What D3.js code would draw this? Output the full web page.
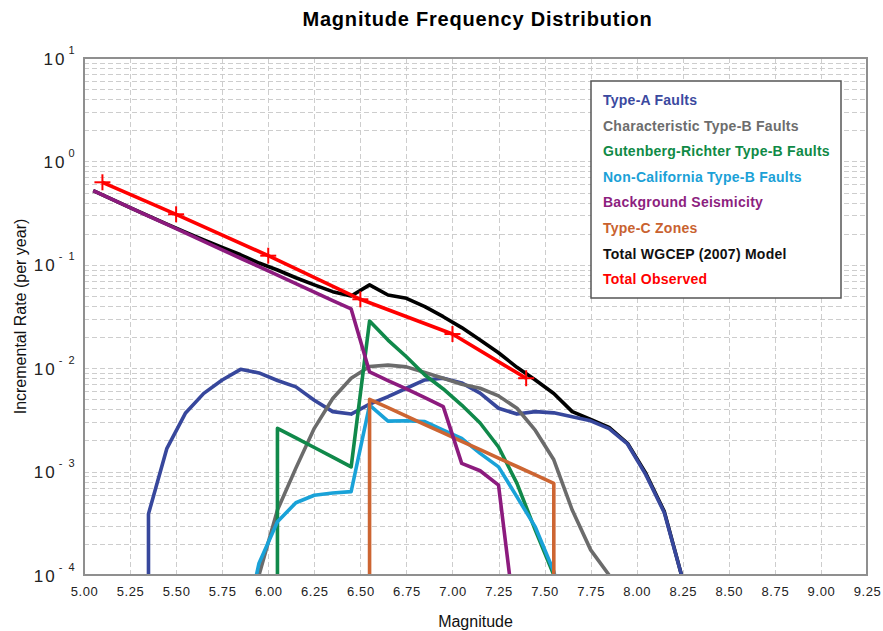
<!DOCTYPE html>
<html>
<head>
<meta charset="utf-8">
<script src="https://cdn.jsdelivr.net/npm/d3@7"></script>
<style>
  html, body { margin: 0; padding: 0; background: #fff; }
  svg { display: block; font-family: "Liberation Sans", Arial, Helvetica, sans-serif; }
</style>
</head>
<body>
<svg id="chart" width="883" height="631"></svg>
<script>
// Magnitude bin centres (0.1 wide bins)
const binMags = [5.05, 5.15, 5.25, 5.35, 5.45, 5.55, 5.65, 5.75, 5.85, 5.95,
                 6.05, 6.15, 6.25, 6.35, 6.45, 6.55, 6.65, 6.75, 6.85, 6.95,
                 7.05, 7.15, 7.25, 7.35, 7.45, 7.55, 7.65, 7.75, 7.85, 7.95,
                 8.05, 8.15, 8.25];

// Incremental rates (per year); null = no contribution, 0 = zero rate
const typeAFaults = [null, null, 0, 0.00039, 0.00168, 0.00366, 0.00571, 0.0077, 0.00975, 0.0090,
                     0.0076, 0.0066, 0.0049, 0.0038, 0.0036, 0.0045, 0.0053, 0.0064, 0.0077, 0.0080,
                     0.0072, 0.00575, 0.0041, 0.0036, 0.0038, 0.0037, 0.0034, 0.0031, 0.0026, 0.00185,
                     0.00093, 0.0004, 0.00009];
const charTypeB = [null, null, null, null, null, null, null, null, 0.00002, 0.0001,
                   0.000425, 0.00108, 0.00262, 0.0051, 0.0080, 0.0104, 0.0107, 0.0103, 0.0091, 0.0080,
                   0.0070, 0.0064, 0.0054, 0.0041, 0.0025, 0.0013, 0.000425, 0.000175, 0.0001, 0.00003,
                   null, null, null];
const grTypeB = [null, null, null, null, null, null, null, null, null, 0,
                 0.00262, 0.00212, 0.00171, 0.00138, 0.00111, 0.0286, 0.0187, 0.0129, 0.0086, 0.0063,
                 0.0044, 0.00295, 0.00173, 0.00077, 0.00027, 0.0001, 0, null, null, null,
                 null, null, null];
const nonCaTypeB = [null, null, null, null, null, null, null, null, 0.00002, 0.00013,
                    0.000327, 0.0005, 0.00059, 0.00062, 0.00064, 0.0044, 0.00308, 0.0031, 0.00304, 0.00252,
                    0.0021, 0.0015, 0.00111, 0.00057, 0.00029, 0.000108, 0.00002, null, null, null,
                    null, null, null];
const background = [0.521, 0.432, 0.358, 0.296, 0.2455, 0.2034, 0.1685, 0.1396, 0.1157, 0.0958,
                    0.0794, 0.0658, 0.0545, 0.0451, 0.0374, 0.0092, 0.0076, 0.0063, 0.0052, 0.00425,
                    0.0012, 0.00102, 0.00074, 0.000026, null, null, null, null, null, null,
                    null, null, null];
const typeCZones = [null, null, null, null, null, null, null, null, null, null,
                    null, null, null, null, 0, 0.0050, 0.00415, 0.00344, 0.00285, 0.00237,
                    0.00196, 0.00163, 0.00135, 0.00112, 0.00093, 0.00077, 0, null, null, null,
                    null, null, null];
const totalModel = [0.521, 0.432, 0.358, 0.297, 0.247, 0.207, 0.174, 0.147, 0.125, 0.104,
                    0.089, 0.075, 0.064, 0.055, 0.050, 0.064, 0.051, 0.0474, 0.0394, 0.0315,
                    0.0247, 0.0187, 0.0141, 0.0102, 0.0077, 0.0057, 0.0038, 0.0032, 0.00268, 0.00188,
                    0.00096, 0.00041, 0.00009];

// Observed rates
const obsMags  = [5.1, 5.5, 6.0, 6.5, 7.0, 7.4];
const obsRates = [0.628, 0.308, 0.1225, 0.0464, 0.0214, 0.0080];

// Axis ticks
const xTicks = [5.00, 5.25, 5.50, 5.75, 6.00, 6.25, 6.50, 6.75, 7.00, 7.25, 7.50, 7.75,
                8.00, 8.25, 8.50, 8.75, 9.00, 9.25];
const yDecades = [1e-4, 1e-3, 1e-2, 1e-1, 1e0, 1e1];
const yExponents = ["-4", "-3", "-2", "-1", "0", "1"];

const seriesNames = ["Type-A Faults", "Characteristic Type-B Faults", "Gutenberg-Richter Type-B Faults",
                     "Non-California Type-B Faults", "Background Seismicity", "Type-C Zones",
                     "Total WGCEP (2007) Model", "Total Observed"];
const seriesColors = ["#37479c", "#6b6b6b", "#10894a", "#19a2d8", "#8c1b7e", "#cd6532", "#000000", "#ff0000"];
const legendColors = ["#3b49a0", "#6d6d6d", "#0f8a46", "#1ba1d7", "#8d1f7f", "#c9622f", "#111111", "#ff0000"];

const svg = d3.select("#chart");
const W = 883, H = 631;
const plot = { left: 84, right: 867, top: 58, bottom: 575 };

const x = d3.scaleLinear().domain([5, 9.25]).range([plot.left, plot.right]);
const y = d3.scaleLog().domain([1e-4, 10]).range([plot.bottom, plot.top]);

svg.append("rect").attr("width", W).attr("height", H).attr("fill", "#fff");

// Title
svg.append("text")
  .attr("x", (plot.left + plot.right) / 2 + 2).attr("y", 26)
  .attr("text-anchor", "middle")
  .attr("font-size", 20).attr("font-weight", "bold").attr("letter-spacing", 0.8).attr("fill", "#000")
  .text("Magnitude Frequency Distribution");

// Grid
const grid = svg.append("g").attr("stroke", "#cdcdcd").attr("stroke-width", 1)
  .attr("stroke-dasharray", "5,3");
grid.selectAll("line.v").data(xTicks.slice(1, -1)).enter().append("line")
  .attr("x1", d => Math.round(x(d)) + 0.5).attr("x2", d => Math.round(x(d)) + 0.5)
  .attr("y1", plot.top).attr("y2", plot.bottom);
const yGridVals = [];
for (let e = -4; e < 1; e++) for (let m = 1; m <= 9; m++) yGridVals.push(m * Math.pow(10, e));
grid.selectAll("line.h").data(yGridVals.slice(1)).enter().append("line")
  .attr("y1", d => Math.round(y(d)) + 0.5).attr("y2", d => Math.round(y(d)) + 0.5)
  .attr("x1", plot.left).attr("x2", plot.right);

// X axis labels
const xAxis = svg.append("g").attr("transform", `translate(0,${plot.bottom})`)
  .call(d3.axisBottom(x).tickValues(xTicks).tickFormat(d3.format(".2f")).tickSize(0).tickPadding(12));
xAxis.select(".domain").remove();
xAxis.selectAll("text").attr("font-size", 13).attr("fill", "#222")
  .attr("font-family", "'Liberation Sans', Arial, sans-serif").attr("letter-spacing", 0.6);

// Y axis labels with superscript exponents
const yAxis = svg.append("g").attr("transform", `translate(${plot.left},0)`)
  .call(d3.axisLeft(y).tickValues(yDecades).tickFormat(() => "").tickSize(0).tickPadding(8));
yAxis.select(".domain").remove();
yAxis.selectAll(".tick text").each(function (d) {
  const t = d3.select(this).attr("dy", null).attr("y", 6)
    .attr("font-family", "'Liberation Sans', Arial, sans-serif").attr("fill", "#222");
  t.append("tspan").attr("font-size", 17).attr("letter-spacing", 2).text("10");
  t.append("tspan").attr("font-size", 11).attr("dx", 2).attr("dy", -11)
    .attr("letter-spacing", 1.5).text(yExponents[yDecades.indexOf(d)].replace("-", "- "));
});

// Axis titles
svg.append("text").attr("x", (plot.left + plot.right) / 2).attr("y", 627)
  .attr("text-anchor", "middle").attr("font-size", 16).attr("fill", "#111").text("Magnitude");
svg.append("text").attr("transform", `translate(26,${(plot.top + plot.bottom) / 2}) rotate(-90)`)
  .attr("text-anchor", "middle").attr("font-size", 16).attr("fill", "#111")
  .text("Incremental Rate (per year)");

// Clip to plot area
svg.append("defs").append("clipPath").attr("id", "plotClip")
  .append("rect").attr("x", plot.left).attr("y", plot.top)
  .attr("width", plot.right - plot.left).attr("height", plot.bottom - plot.top);

// Build point list; a zero rate drops the line vertically to the axis floor
function toPoints(vals) {
  const floor = y.domain()[0];
  const pts = [];
  vals.forEach((v, i) => {
    if (v === null) return;
    if (v > 0) { pts.push([binMags[i], v]); return; }
    if (i > 0 && vals[i - 1] > 0) pts.push([binMags[i - 1], floor]);
    if (i < vals.length - 1 && vals[i + 1] > 0) pts.push([binMags[i + 1], floor]);
  });
  return pts;
}

const line = d3.line().x(d => x(d[0])).y(d => y(d[1]));
const curves = svg.append("g").attr("clip-path", "url(#plotClip)")
  .attr("fill", "none").attr("stroke-linejoin", "round").attr("stroke-linecap", "butt");

// Drawn in stacking order: model total underneath
const drawOrder = [
  [totalModel, 6], [typeAFaults, 0], [charTypeB, 1], [grTypeB, 2],
  [nonCaTypeB, 3], [typeCZones, 5], [background, 4]
];
drawOrder.forEach(([vals, k]) => {
  curves.append("path").attr("d", line(toPoints(vals)))
    .attr("stroke", seriesColors[k]).attr("stroke-width", 3.6);
});

// Observed totals with + markers
const obs = obsMags.map((m, i) => [m, obsRates[i]]);
curves.append("path").attr("d", line(obs)).attr("stroke", seriesColors[7]).attr("stroke-width", 3.6);
const marks = svg.append("g").attr("stroke", seriesColors[7]).attr("stroke-width", 2);
marks.selectAll("line.mh").data(obs).enter().append("line")
  .attr("x1", d => x(d[0]) - 8).attr("x2", d => x(d[0]) + 8)
  .attr("y1", d => y(d[1])).attr("y2", d => y(d[1]));
marks.selectAll("line.mv").data(obs).enter().append("line")
  .attr("x1", d => x(d[0])).attr("x2", d => x(d[0]))
  .attr("y1", d => y(d[1]) - 8).attr("y2", d => y(d[1]) + 8);

// Plot frame
svg.append("rect").attr("x", plot.left).attr("y", plot.top)
  .attr("width", plot.right - plot.left).attr("height", plot.bottom - plot.top)
  .attr("fill", "none").attr("stroke", "#8f8f8f").attr("stroke-width", 2);

// Legend
const lg = svg.append("g");
lg.append("rect").attr("x", 591).attr("y", 81).attr("width", 250).attr("height", 217)
  .attr("fill", "#fff").attr("stroke", "#555").attr("stroke-width", 1.5);
lg.selectAll("text").data(seriesNames).enter().append("text")
  .attr("x", 603).attr("y", (d, i) => 105 + i * 25.6)
  .attr("font-size", 14).attr("font-weight", "bold").attr("letter-spacing", 0.25)
  .attr("fill", (d, i) => legendColors[i]).text(d => d);
</script>
</body>
</html>
